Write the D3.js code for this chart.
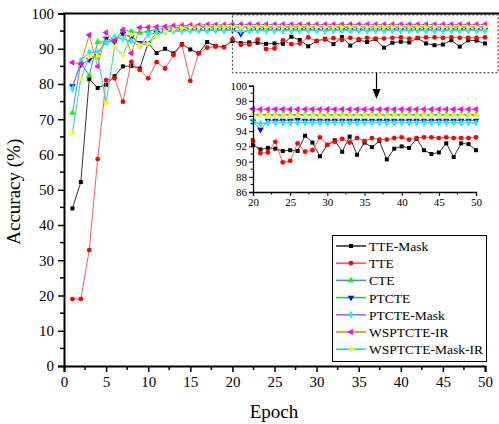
<!DOCTYPE html>
<html>
<head>
<meta charset="utf-8">
<script src="https://cdn.jsdelivr.net/npm/d3@7/dist/d3.min.js"></script>
<style>
  html, body { margin: 0; padding: 0; background: #fff; }
  svg { display: block; font-family: "Liberation Serif", "Times New Roman", serif; }
</style>
</head>
<body>
<svg id="chart" width="499" height="424"></svg>
<script>
// Training accuracy per epoch for each model variant
const epochs = [1,2,3,4,5,6,7,8,9,10,11,12,13,14,15,16,17,18,19,20,21,22,23,24,25,26,27,28,29,30,31,32,33,34,35,36,37,38,39,40,41,42,43,44,45,46,47,48,49,50];

const tteMask = [44.7,52.2,81.4,78.9,79.8,82.2,85.0,85.1,84.4,91.6,88.8,90.0,88.7,91.3,89.8,88.7,91.9,90.8,90.5,92.2,
  91.6,91.8,91.7,91.4,91.5,91.4,93.4,92.5,90.7,92.2,92.8,91.3,93.3,90.9,92.5,91.9,92.7,90.3,91.7,92.0,
  91.8,93.0,91.5,91.0,91.2,92.4,90.6,92.4,92.3,91.5];
const tte = [19.0,19.0,32.9,58.7,81.1,81.6,75.0,86.3,84.0,81.6,86.2,84.4,88.2,91.1,80.9,88.7,90.3,90.6,90.4,92.7,
  91.1,91.2,92.6,89.9,90.1,92.4,91.3,91.5,93.2,92.2,92.6,93.0,92.5,93.1,92.7,93.1,92.9,92.9,93.1,93.2,
  92.9,93.1,93.2,93.2,93.1,93.2,93.1,93.1,93.1,93.2];
const cte = [71.8,86.0,82.4,91.9,91.9,92.1,95.3,94.9,94.5,95.0,95.5,95.8,96.0,96.1,96.2,96.2,96.3,96.2,96.2,96.2,
  96.2,96.2,96.2,96.2,96.2,96.2,96.2,96.2,96.2,96.2,96.2,96.2,96.2,96.2,96.2,96.2,96.2,96.2,96.2,96.2,
  96.2,96.2,96.2,96.2,96.2,96.2,96.2,96.2,96.2,96.2];
const ptcte = [79.4,85.5,86.9,88.0,92.9,92.1,94.2,93.3,91.7,91.7,94.5,95.0,95.2,95.3,95.4,95.4,95.3,95.4,95.4,95.3,
  94.2,95.4,95.4,95.4,95.4,95.5,95.4,95.4,95.4,95.4,95.4,95.4,95.4,95.4,95.4,95.4,95.4,95.4,95.4,95.4,
  95.4,95.4,95.4,95.4,95.4,95.4,95.4,95.4,95.4,95.4];
const ptcteMask = [78.6,86.7,89.0,89.0,91.7,93.3,92.8,92.1,90.8,94.0,94.5,94.8,95.0,95.0,95.1,95.1,95.1,95.2,95.1,95.2,
  95.0,95.1,95.1,95.1,95.1,95.1,95.1,95.1,95.1,95.1,95.1,95.1,95.1,95.1,95.1,95.1,95.1,95.1,95.1,95.1,
  95.1,95.1,95.1,95.1,95.1,95.1,95.1,95.1,95.1,95.1];
const wsptcteIR = [86.1,85.7,93.9,85.0,94.6,92.3,95.3,88.7,96.0,96.1,96.2,96.3,96.5,96.6,96.7,96.7,96.8,96.8,96.8,96.9,
  96.9,96.9,96.9,96.9,96.9,96.9,96.9,96.9,96.9,96.9,96.9,96.9,96.9,96.9,96.9,96.9,96.9,96.9,96.9,96.9,
  96.9,96.9,96.9,96.9,96.9,96.9,96.9,96.9,96.9,96.9];
const wsptcteMaskIR = [66.1,81.5,87.7,88.0,74.6,90.5,88.2,94.0,91.0,91.5,93.5,95.0,95.5,95.8,96.0,96.0,96.1,96.1,96.1,96.1,
  96.1,96.1,96.1,96.1,96.1,96.1,96.1,96.1,96.1,96.1,96.1,96.1,96.1,96.1,96.1,96.1,96.1,96.1,96.1,96.1,
  96.1,96.1,96.1,96.1,96.1,96.1,96.1,96.1,96.1,96.1];

const seriesNames = ["TTE-Mask","TTE","CTE","PTCTE","PTCTE-Mask","WSPTCTE-IR","WSPTCTE-Mask-IR"];
const xTicks = [0,5,10,15,20,25,30,35,40,45,50];
const yTicks = [0,10,20,30,40,50,60,70,80,90,100];
const insetXTicks = [20,25,30,35,40,45,50];
const insetYTicks = [86,88,90,92,94,96,98,100];

// Line / marker styling per series
const styles = [
  {values: tteMask,       line: "#333333", fill: "#000000", symbol: d3.symbolSquare,   rot: 0,   size: 16},
  {values: tte,           line: "#ff5a5a", fill: "#ff0000", symbol: d3.symbolCircle,   rot: 0,   size: 18},
  {values: cte,           line: "#4a8fd8", fill: "#00ff00", symbol: d3.symbolTriangle, rot: 0,   size: 18},
  {values: ptcte,         line: "#3cb371", fill: "#0000ff", symbol: d3.symbolTriangle, rot: 180, size: 18},
  {values: ptcteMask,     line: "#a070e0", fill: "#00ffff", symbol: d3.symbolDiamond,  rot: 0,   size: 18},
  {values: wsptcteIR,     line: "#cc9900", fill: "#ff00ff", symbol: d3.symbolTriangle, rot: -90, size: 18},
  {values: wsptcteMaskIR, line: "#33cccc", fill: "#ffff00", symbol: d3.symbolTriangle, rot: 90,  size: 18}
];

const svg = d3.select("#chart");

// ---- main plot ----
const x = d3.scaleLinear().domain([0, 50]).range([64, 485]);
const y = d3.scaleLinear().domain([0, 100]).range([366, 13.5]);

function drawSeries(g, xs, ys, filter) {
  styles.forEach(s => {
    const pts = epochs.map((e, i) => [e, s.values[i]]).filter(filter);
    g.append("path")
      .datum(pts)
      .attr("fill", "none")
      .attr("stroke", s.line)
      .attr("stroke-width", 1)
      .attr("d", d3.line().x(d => xs(d[0])).y(d => ys(d[1])));
    g.selectAll(null).data(pts).enter().append("path")
      .attr("d", d3.symbol().type(s.symbol).size(s.size))
      .attr("fill", s.fill)
      .attr("transform", d => `translate(${xs(d[0])},${ys(d[1])}) rotate(${s.rot})`);
  });
}

drawSeries(svg.append("g"), x, y, () => true);

// axes
const xAxis = svg.append("g").attr("transform", "translate(0,366)")
  .call(d3.axisBottom(x).tickValues(xTicks).tickSize(6).tickPadding(4).tickFormat(d3.format("d")));
const yAxis = svg.append("g").attr("transform", "translate(64,0)")
  .call(d3.axisLeft(y).tickValues(yTicks).tickSize(6).tickPadding(4).tickFormat(d3.format("d")));
[xAxis, yAxis].forEach(a => {
  a.select(".domain").attr("stroke", "#000").attr("stroke-width", 2);
  a.selectAll(".tick line").attr("stroke", "#000").attr("stroke-width", 1.5);
  a.selectAll(".tick text").attr("font-size", 15).attr("font-family", "Liberation Serif").attr("fill", "#000");
});
// minor ticks
svg.append("g").selectAll("line").data(xTicks.slice(0, -1).map(v => v + 2.5)).enter().append("line")
  .attr("x1", d => x(d)).attr("x2", d => x(d)).attr("y1", 366).attr("y2", 370)
  .attr("stroke", "#000").attr("stroke-width", 1.5);
svg.append("g").selectAll("line").data(yTicks.slice(0, -1).map(v => v + 5)).enter().append("line")
  .attr("x1", 60).attr("x2", 64).attr("y1", d => y(d)).attr("y2", d => y(d))
  .attr("stroke", "#000").attr("stroke-width", 1.5);
// top frame line
svg.append("line").attr("x1", 63).attr("x2", 499).attr("y1", y(100)).attr("y2", y(100))
  .attr("stroke", "#000").attr("stroke-width", 2);

// axis titles
svg.append("text").attr("x", 274).attr("y", 418).attr("text-anchor", "middle")
  .attr("font-size", 19).text("Epoch");
svg.append("text").attr("transform", `translate(20,${y(50) + 2}) rotate(-90)`).attr("text-anchor", "middle")
  .attr("font-size", 19).text("Accuracy (%)");

// zoom region marker
svg.append("rect")
  .attr("x", x(20)).attr("y", y(99.6))
  .attr("width", 498 - x(20)).attr("height", y(83.2) - y(99.6))
  .attr("fill", "none").attr("stroke", "#333").attr("stroke-width", 1).attr("stroke-dasharray", "2,2");
svg.append("line").attr("x1", 376.5).attr("x2", 376.5).attr("y1", y(83.2)).attr("y2", 90)
  .attr("stroke", "#000").attr("stroke-width", 1.2);
svg.append("path").attr("d", "M372.5,89 L380.5,89 L376.5,99 Z").attr("fill", "#000");

// ---- inset: epochs 20-50 ----
const ix = d3.scaleLinear().domain([20, 50]).range([253, 476]);
const iy = d3.scaleLinear().domain([86, 100]).range([192, 85.6]);
const inset = svg.append("g");
drawSeries(inset, ix, iy, d => d[0] >= 20);

const ixAxis = inset.append("g").attr("transform", "translate(0,192)")
  .call(d3.axisBottom(ix).tickValues(insetXTicks).tickSize(4).tickPadding(2).tickFormat(d3.format("d")));
const iyAxis = inset.append("g").attr("transform", "translate(253,0)")
  .call(d3.axisLeft(iy).tickValues(insetYTicks).tickSize(4).tickPadding(2).tickFormat(d3.format("d")));
[ixAxis, iyAxis].forEach(a => {
  a.select(".domain").attr("stroke", "#000").attr("stroke-width", 1.3);
  a.selectAll(".tick line").attr("stroke", "#000").attr("stroke-width", 1);
  a.selectAll(".tick text").attr("font-size", 11).attr("font-family", "Liberation Serif").attr("fill", "#000");
});
inset.append("g").selectAll("line").data(insetXTicks.slice(0, -1).map(v => v + 2.5)).enter().append("line")
  .attr("x1", d => ix(d)).attr("x2", d => ix(d)).attr("y1", 192).attr("y2", 194.5)
  .attr("stroke", "#000").attr("stroke-width", 1);
inset.append("g").selectAll("line").data(insetYTicks.slice(0, -1).map(v => v + 1)).enter().append("line")
  .attr("x1", 250.5).attr("x2", 253).attr("y1", d => iy(d)).attr("y2", d => iy(d))
  .attr("stroke", "#000").attr("stroke-width", 1);

// ---- legend ----
const legend = svg.append("g");
legend.append("rect").attr("x", 332.5).attr("y", 235.5).attr("width", 154).attr("height", 126)
  .attr("fill", "#fff").attr("stroke", "#000").attr("stroke-width", 1);
seriesNames.forEach((name, i) => {
  const s = styles[i];
  const ly = 246 + i * 17.2;
  legend.append("line").attr("x1", 336).attr("x2", 366).attr("y1", ly).attr("y2", ly)
    .attr("stroke", s.line).attr("stroke-width", 1.6);
  legend.append("path").attr("d", d3.symbol().type(s.symbol).size(s.size))
    .attr("fill", s.fill).attr("transform", `translate(351,${ly}) rotate(${s.rot})`);
  legend.append("text").attr("x", 369).attr("y", ly + 5).attr("font-size", 13.5).text(name);
});
</script>
</body>
</html>
